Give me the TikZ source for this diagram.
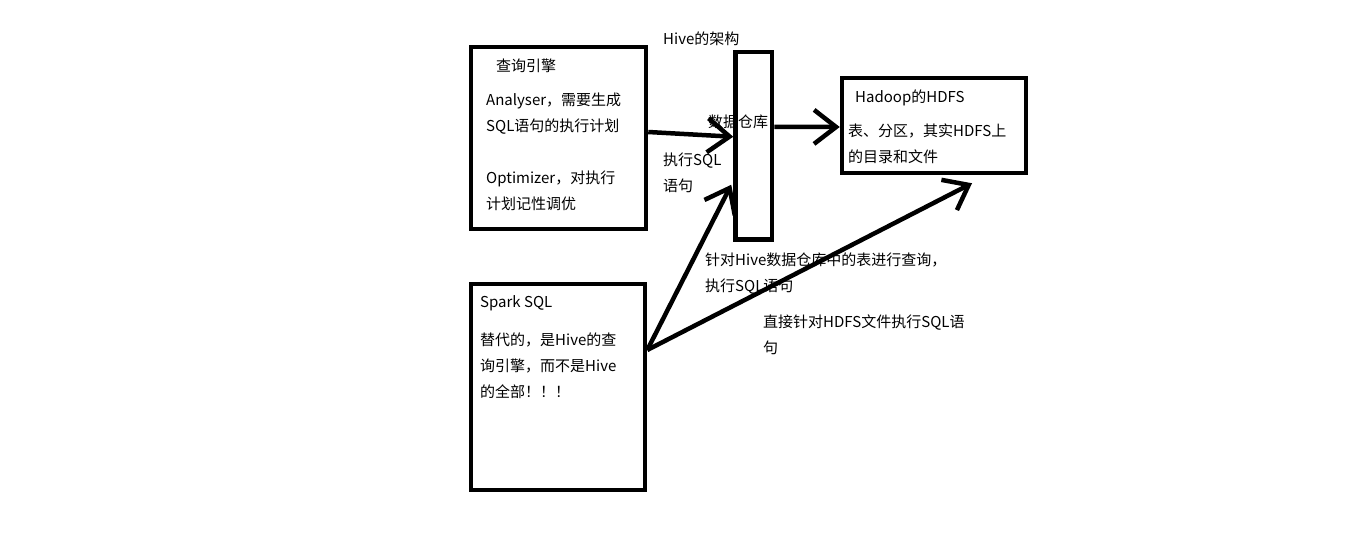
\documentclass[tikz,border=0pt]{standalone}
\usepackage{fontspec}
\setmainfont{Noto Sans CJK SC}
\usetikzlibrary{arrows.meta, positioning}

\tikzset{
  box/.style={rectangle, draw=black, line width=4.5pt, inner sep=0pt},
  txt/.style={inner sep=0pt, anchor=base west, align=left,
              font=\fontsize{15}{26}\selectfont},
  arr/.style={line width=4.5pt, -{Straight Barb[length=22pt, width=34pt]}}
}

\begin{document}
\begin{tikzpicture}[x=1pt, y=-1pt]
\useasboundingbox (0,0) rectangle (1360,543);

% Query engine (multi-line texts sit on their last baseline)
\node[box, minimum width=175pt, minimum height=182pt] (engine) at (558.5,138) {};
\node[txt] (enginetitle) at (496,71) {查询引擎};
\node[txt] (analyser) at (486,131) {Analyser，需要生成\\SQL语句的执行计划};
\node[txt] (optimizer) at (486,209) {Optimizer，对执行\\计划记性调优};

% Data warehouse
\node[txt] (hivearch) at (663,45) {Hive的架构};
\node[box, minimum width=36.5pt, minimum height=187.5pt] (warehouse) at (753.75,145.75) {};
\node[txt] (whlabel) at (708,127) {数据仓库};
\node[txt] (execsql) at (663,191) {执行SQL\\语句};

% HDFS
\node[box, minimum width=184pt, minimum height=95pt] (hdfs) at (934,125.5) {};
\node[txt] (hdfstitle) at (855,102) {Hadoop的HDFS};
\node[txt] (hdfstext) at (848,162) {表、分区，其实HDFS上\\的目录和文件};

% Spark SQL
\node[box, minimum width=174pt, minimum height=206pt] (spark) at (558,387) {};
\node[txt] (sparktitle) at (480,307) {Spark SQL};
\node[txt] (sparktext) at (480,397) {替代的，是Hive的查\\询引擎，而不是Hive\\的全部！！！};

% Arrows
\draw[arr] ([yshift=6pt]engine.east) -- ([yshift=9pt]warehouse.west);
\draw[arr] ([yshift=19pt]warehouse.east) -- ([yshift=-1.5pt]hdfs.west);
\draw[arr] ([yshift=37pt]spark.east) -- ([xshift=-2pt, yshift=-39pt]warehouse.west);
\draw[arr] ([yshift=37pt]spark.east) -- ([xshift=38pt, yshift=-8pt]hdfs.south);

\node[txt] (queryhive) at (705,291) {针对Hive数据仓库中的表进行查询，\\执行SQL语句};
\node[txt] (queryhdfs) at (763,353) {直接针对HDFS文件执行SQL语\\句};

\end{tikzpicture}
\end{document}
